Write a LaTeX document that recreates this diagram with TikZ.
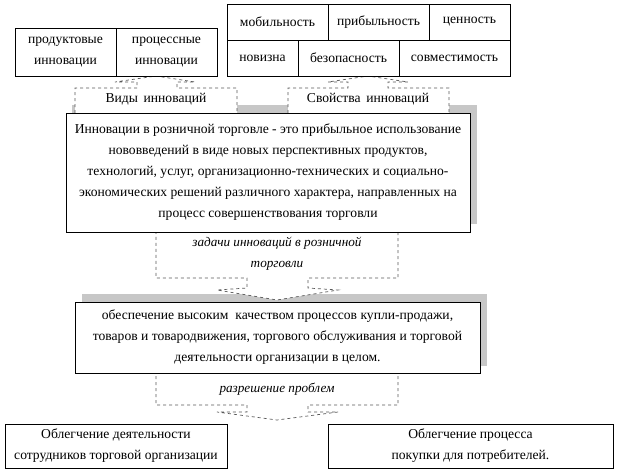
\documentclass[tikz,border=0pt]{standalone}
\usepackage{fontspec}
\setmainfont{Liberation Serif}
\begin{document}
\begin{tikzpicture}[x=1pt,y=-1pt,
  box/.style={draw,fill=white,line width=0.8pt},
  shad/.style={fill=black!22},
  darr/.style={draw=black!65,dashed,fill=white,line width=0.7pt},
  txt/.style={align=center,font=\fontsize{13.6}{21}\selectfont,inner sep=0pt},
  itx/.style={align=center,font=\fontsize{13.2}{21}\selectfont\itshape,inner sep=0pt}]
\useasboundingbox (0,0) rectangle (620,474);
% shadows
\fill[shad] (72,105) rectangle (477,224);
\fill[shad] (82,294) rectangle (487,366);
% dashed arrows
\draw[darr] (75,125)--(75,88)--(137,88)--(137,82)--(115,82)--(156,76)--(195,82)--(177,82)--(177,88)--(237,88)--(237,125)--cycle;
\node[txt] (vid) at (156,99) {Виды\, инноваций};
\draw[darr] (288,125)--(288,88)--(348,88)--(348,82)--(328,82)--(368,76)--(408,82)--(388,82)--(388,88)--(449,88)--(449,125)--cycle;
\node[txt] (svo) at (368,99) {Свойства\, инноваций};
\draw[darr] (156,228)--(398,228)--(398,278)--(308,278)--(308,288)--(338,290)--(277,300)--(217,290)--(247,288)--(247,278)--(156,278)--cycle;
\node[itx] (zad) at (277,254) {задачи инноваций в розничной\\торговли};
\draw[darr] (156,372)--(398,372)--(398,405)--(308,405)--(308,412)--(338,412)--(277,420)--(217,412)--(247,412)--(247,405)--(156,405)--cycle;
\node[itx] (raz) at (277,389) {разрешение проблем};
% top-left boxes
\draw[box] (15,28) rectangle (217,76);
\draw (116,28)--(116,76);
\node[txt] (prod) at (65.5,52) {продуктовые\\инновации};
\node[txt] (proc) at (166.5,52) {процессные\\инновации};
% top-right boxes
\draw[box] (227,4) rectangle (510,76);
\draw (227,40)--(510,40);
\draw (328,4)--(328,40) (429,4)--(429,40) (298,40)--(298,76) (399,40)--(399,76);
\node[txt] (mob) at (277.5,22) {мобильность};
\node[txt] (pri) at (378.5,22) {прибыльность};
\node[txt] (cen) at (469.5,22) {ценность};
\node[txt] (nov) at (262.5,58) {новизна};
\node[txt] (bez) at (348.5,58) {безопасность};
\node[txt] (sov) at (454.5,58) {совместимость};
% main box
\draw[box] (66,113) rectangle (470,232);
\node[txt] (main) at (268,172.5) {Инновации в розничной торговле - это прибыльное использование\\нововведений в виде новых перспективных продуктов,\\технологий, услуг, организационно-технических и социально-\\экономических решений различного характера, направленных на\\процесс совершенствования торговли};
\draw[box] (75,302) rectangle (480,373);
\node[txt] (obe) at (277.5,337.5) {обеспечение высоким\ \ качеством процессов купли-продажи,\\товаров и товародвижения, торгового обслуживания и торговой\\деятельности организации в целом.};
% bottom
\draw[box] (5,424) rectangle (227,468);
\node[txt] (ol1) at (116,446) {Облегчение деятельности\\сотрудников торговой организации};
\draw[box] (328,424) rectangle (613,468);
\node[txt] (ol2) at (470.5,446) {Облегчение процесса\\покупки для потребителей.};
\end{tikzpicture}
\end{document}
